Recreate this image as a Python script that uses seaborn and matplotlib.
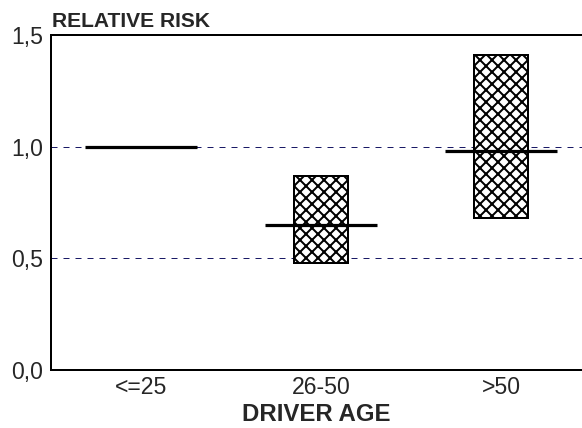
import numpy as np
import pandas as pd
import seaborn as sns
import matplotlib.pyplot as plt

# data
ages = ['<=25', '26-50', '>50']
risk = [1.00, 0.65, 0.98]
ci_low = [1.00, 0.48, 0.68]
ci_high = [1.00, 0.87, 1.41]

sns.set_style('white')
plt.rcParams['font.family'] = ['Liberation Sans', 'DejaVu Sans']
plt.rcParams['hatch.linewidth'] = 1.0

dpi = 144
fig = plt.figure(figsize=(582 / dpi, 428 / dpi), dpi=dpi)
ax = fig.add_axes([51 / 582, 1 - 370 / 428, 1 - 51 / 582, (370 - 35) / 428])

df = pd.DataFrame({'age': ages, 'low': ci_low, 'high': ci_high, 'risk': risk})
df['span'] = df['high'] - df['low']
ci = df[df['span'] > 0]

# confidence boxes (hatched)
sns.barplot(data=ci, x='age', y='span', order=ages, bottom=ci['low'].values,
            width=0.305, color='white', edgecolor='black', linewidth=1.0,
            hatch='xxxx', ax=ax, zorder=2)

# point estimates
xpos = np.arange(len(ages))
ax.hlines(df['risk'], xpos - 0.31, xpos + 0.31, color='black', lw=1.6, zorder=3)

for y in [0.5, 1.0]:
    ax.axhline(y, color='#1a1a66', lw=0.5, linestyle=(0, (6, 6)), zorder=1)

ax.set_ylim(0, 1.5)
ax.set_xlim(-0.5, 2.45)
ax.set_yticks([0, 0.5, 1.0, 1.5])
ax.set_yticklabels(['0,0', '0,5', '1,0', '1,5'])
ax.tick_params(length=0, labelsize=11.5)
ax.tick_params(axis='x', pad=3)
ax.tick_params(axis='y', pad=4)
ax.set_xlabel('DRIVER AGE', fontsize=12, fontweight='bold', labelpad=2)
ax.set_ylabel('')
for s in ['left', 'bottom', 'top']:
    ax.spines[s].set_color('black')
    ax.spines[s].set_linewidth(1.0)
ax.spines['right'].set_visible(False)

fig.text(52 / 582, 1 - 27 / 428, 'RELATIVE RISK', fontsize=10.5, fontweight='bold')

fig.savefig('out.png', dpi=dpi)
